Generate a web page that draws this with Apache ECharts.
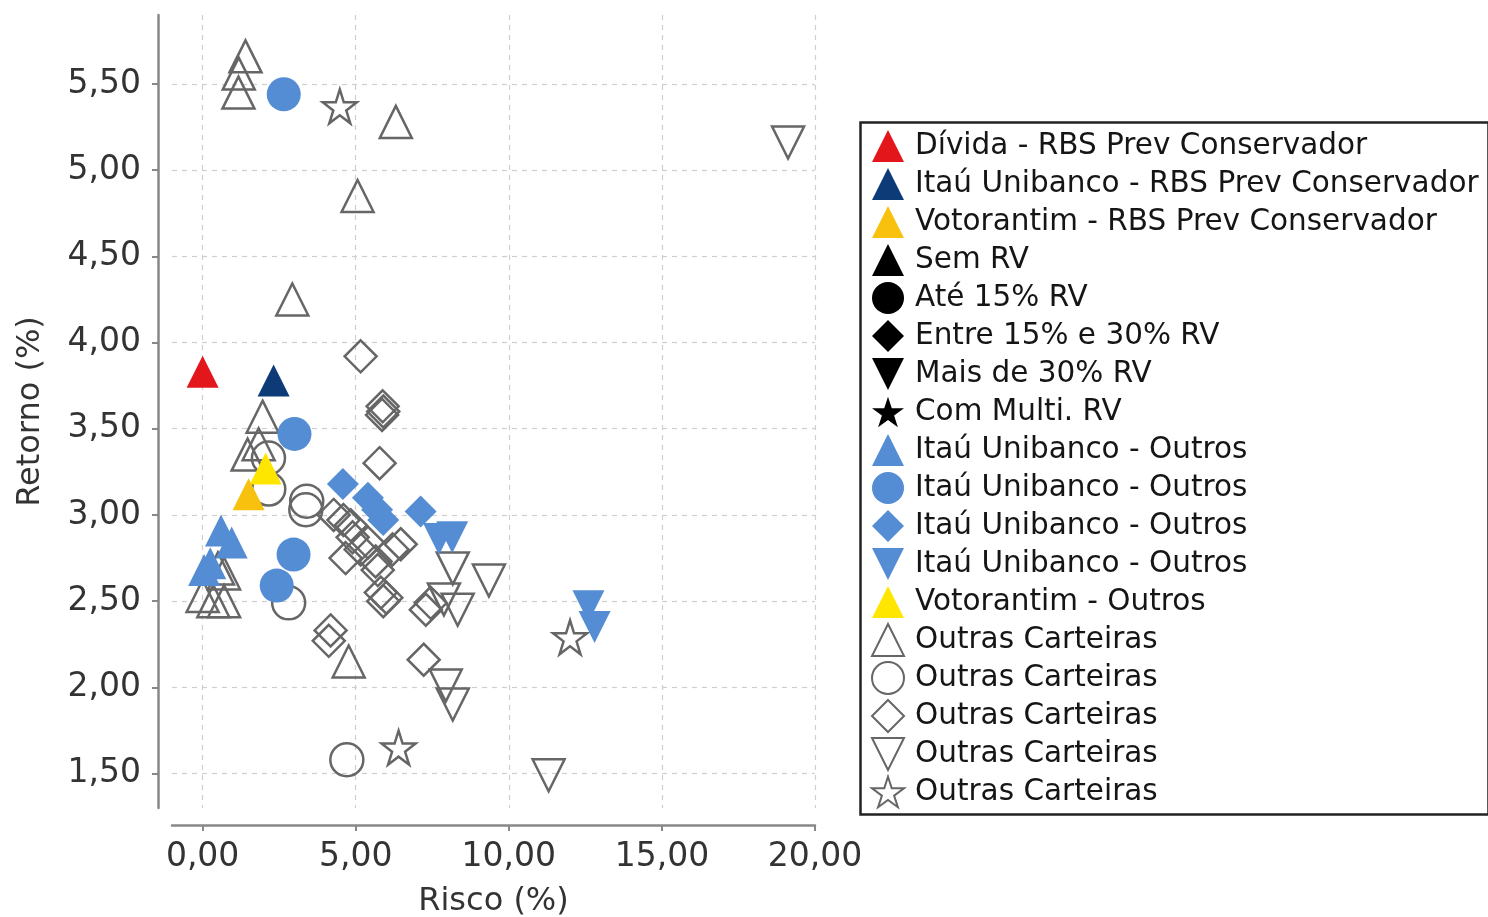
<!DOCTYPE html>
<html>
<head>
<meta charset="utf-8">
<script src="https://cdn.jsdelivr.net/npm/echarts@6/dist/echarts.min.js"></script>
<style>html,body{margin:0;padding:0;background:#fff;}#c{width:1488px;height:917px;}</style>
</head>
<body>
<div id="c"></div>
<script>
// ---- tick labels ----
const xTicks = [0, 5, 10, 15, 20];
const yTicks = [1.5, 2.0, 2.5, 3.0, 3.5, 4.0, 4.5, 5.0, 5.5];

// ---- series values: [Risco, Retorno] ----
const dividaRBS = [[0.0, 3.83]];
const itauRBS = [[2.32, 3.78]];
const votoRBS = [[1.50, 3.12]];
const semRV = [];
const ate15 = [];
const entre15e30 = [];
const mais30 = [];
const comMulti = [];
const itauOutrosTri = [[0.60, 2.91], [0.95, 2.84], [0.05, 2.68], [0.25, 2.72]];
const itauOutrosCirc = [[2.65, 5.44], [3.00, 3.47], [2.97, 2.77], [2.42, 2.59]];
const itauOutrosDiam = [[4.58, 3.18], [5.40, 3.10], [5.70, 3.03], [5.90, 2.97], [7.12, 3.02]];
const itauOutrosInv = [[7.72, 2.86], [8.15, 2.87], [12.60, 2.47], [12.80, 2.35]];
const votoOutros = [[2.06, 3.27]];
const outrasTri = [[1.40, 5.66], [1.18, 5.56], [1.17, 5.45], [6.31, 5.28], [5.06, 4.85], [2.93, 4.25],
  [1.96, 3.57], [1.83, 3.41], [1.47, 3.35], [0.50, 2.69], [0.70, 2.66], [0.00, 2.53], [0.35, 2.50],
  [0.70, 2.50], [4.77, 2.15]];
const outrasCirc = [[2.15, 3.33], [2.16, 3.15], [3.40, 3.08], [3.37, 3.03], [2.81, 2.49], [4.71, 1.58]];
const outrasDiam = [[5.16, 3.92], [5.88, 3.63], [5.90, 3.60], [5.86, 3.58], [5.78, 3.30], [4.28, 3.00],
  [4.60, 2.97], [4.84, 2.94], [4.90, 2.87], [4.67, 2.75], [5.16, 2.80], [5.40, 2.84], [5.65, 2.73],
  [5.72, 2.68], [6.47, 2.83], [6.20, 2.80], [5.82, 2.55], [6.00, 2.52], [5.90, 2.50], [4.18, 2.33],
  [4.12, 2.27], [7.29, 2.45], [7.45, 2.49], [7.22, 2.16]];
const outrasInv = [[19.12, 5.16], [8.17, 2.69], [9.35, 2.62], [7.88, 2.51], [8.33, 2.45], [7.94, 2.01],
  [8.17, 1.90], [11.30, 1.49]];
const outrasStar = [[4.48, 5.37], [12.00, 2.29], [6.40, 1.65]];

const INV = 'path://M0,0L10,0L5,10Z';
const STAR = 'path://M5,0L6.18,3.62L10,3.62L6.91,5.88L8.09,9.51L5,7.27L1.91,9.51L3.09,5.88L0,3.62L3.82,3.62Z';
const BLUE = '#548dd4';
const GRAY = '#666666';

function filled(name, data, symbol, color, size) {
  return { name, type: 'scatter', data, symbol, symbolSize: size || 32,
    itemStyle: { color, opacity: 1 }, emphasis: { disabled: true } };
}
function hollow(name, data, symbol, size) {
  return { name, type: 'scatter', data, symbol, symbolSize: size || 32,
    itemStyle: { color: 'rgba(255,255,255,0)', borderColor: GRAY, borderWidth: 2.5, opacity: 1 },
    emphasis: { disabled: true } };
}

const series = [
  hollow('Outras Carteiras#1', outrasTri, 'triangle'),
  hollow('Outras Carteiras#2', outrasCirc, 'circle', 33),
  hollow('Outras Carteiras#3', outrasDiam, 'diamond'),
  hollow('Outras Carteiras#4', outrasInv, INV),
  hollow('Outras Carteiras#5', outrasStar, STAR, 34),
  filled('Sem RV', semRV, 'triangle', '#000'),
  filled('Até 15% RV', ate15, 'circle', '#000'),
  filled('Entre 15% e 30% RV', entre15e30, 'diamond', '#000'),
  filled('Mais de 30% RV', mais30, INV, '#000'),
  filled('Com Multi. RV', comMulti, STAR, '#000'),
  filled('Itaú Unibanco - Outros#1', itauOutrosTri, 'triangle', BLUE),
  filled('Itaú Unibanco - Outros#2', itauOutrosCirc, 'circle', BLUE, 34),
  filled('Itaú Unibanco - Outros#3', itauOutrosDiam, 'diamond', BLUE),
  filled('Itaú Unibanco - Outros#4', itauOutrosInv, INV, BLUE),
  filled('Votorantim - Outros', votoOutros, 'triangle', '#ffe600'),
  filled('Dívida - RBS Prev Conservador', dividaRBS, 'triangle', '#e3161c'),
  filled('Itaú Unibanco - RBS Prev Conservador', itauRBS, 'triangle', '#0d3b78'),
  filled('Votorantim - RBS Prev Conservador', votoRBS, 'triangle', '#f7c10d')
];

const legendOrder = [
  'Dívida - RBS Prev Conservador', 'Itaú Unibanco - RBS Prev Conservador', 'Votorantim - RBS Prev Conservador',
  'Sem RV', 'Até 15% RV', 'Entre 15% e 30% RV', 'Mais de 30% RV', 'Com Multi. RV',
  'Itaú Unibanco - Outros#1', 'Itaú Unibanco - Outros#2', 'Itaú Unibanco - Outros#3', 'Itaú Unibanco - Outros#4',
  'Votorantim - Outros',
  'Outras Carteiras#1', 'Outras Carteiras#2', 'Outras Carteiras#3', 'Outras Carteiras#4', 'Outras Carteiras#5'
];

const FONT = 'DejaVu Sans';
const fmt = v => Number(v).toFixed(2).replace('.', ',');

const chart = echarts.init(document.getElementById('c'), null, { renderer: 'canvas' });
chart.setOption({
  animation: false,
  backgroundColor: '#fff',
  textStyle: { fontFamily: FONT },
  grid: { left: 172, right: 673, top: 15, bottom: 109, containLabel: false, outerBoundsMode: 'none' },
  xAxis: {
    type: 'value', min: -1, max: 20, offset: 17,
    name: 'Risco (%)', nameLocation: 'middle', nameGap: 61,
    nameTextStyle: { fontFamily: FONT, fontSize: 32, color: '#333' },
    axisLine: { show: true, onZero: false, lineStyle: { color: '#888', width: 2.5 } },
    axisTick: { show: true, length: 6, customValues: xTicks, lineStyle: { color: '#888', width: 2 } },
    axisLabel: { customValues: xTicks, formatter: fmt, margin: 16, fontFamily: FONT, fontSize: 33, color: '#333' },
    splitLine: { show: true, lineStyle: { color: '#cfcfcf', width: 1.2, type: [5, 5] } }
  },
  yAxis: {
    type: 'value', min: 1.3, max: 5.9, offset: 14,
    name: 'Retorno (%)', nameLocation: 'middle', nameGap: 111, nameRotate: 90,
    nameTextStyle: { fontFamily: FONT, fontSize: 32, color: '#333' },
    axisLine: { show: true, onZero: false, lineStyle: { color: '#888', width: 2.5 } },
    axisTick: { show: true, length: 6, customValues: yTicks, lineStyle: { color: '#888', width: 2 } },
    axisLabel: { customValues: yTicks, formatter: fmt, margin: 17, fontFamily: FONT, fontSize: 33, color: '#333' },
    splitLine: { show: true, lineStyle: { color: '#cfcfcf', width: 1.2, type: [5, 5] } }
  },
  legend: {
    orient: 'vertical', left: 858, top: 122,
    padding: [7, 10, 8, 13],
    itemWidth: 32, itemHeight: 32, itemGap: 4,
    selectedMode: false,
    data: legendOrder,
    formatter: n => n.replace(/#\d+$/, ''),
    textStyle: { fontFamily: FONT, fontSize: 29.5, color: '#151515', padding: [0, 0, 0, 6], height: 34, lineHeight: 34 }
  },
  graphic: [{
    type: 'rect', left: 858, top: 120, z: 100, silent: true,
    shape: { width: 628, height: 692 },
    style: { fill: 'none', stroke: '#222', lineWidth: 2.5 }
  }],
  series
});
</script>
</body>
</html>
